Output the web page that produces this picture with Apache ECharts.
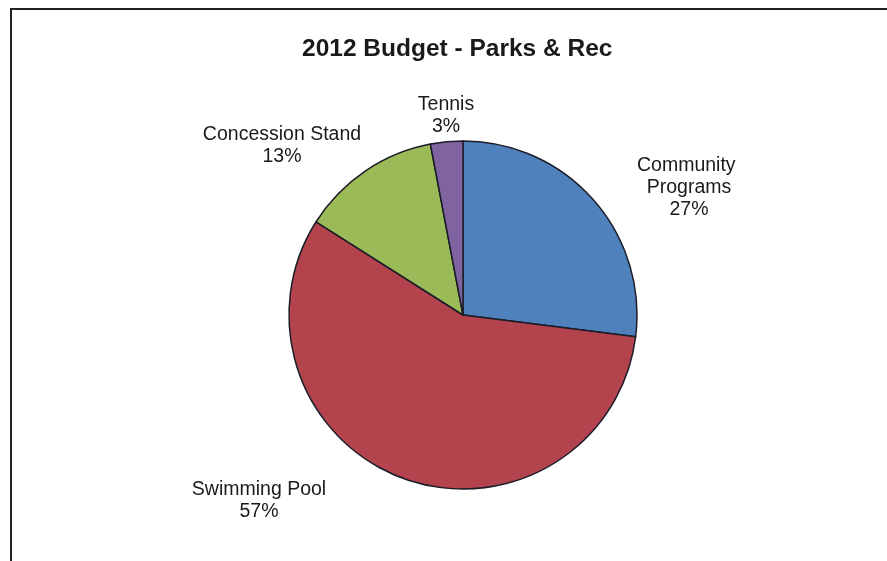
<!DOCTYPE html>
<html>
<head>
<meta charset="utf-8">
<script src="https://cdn.jsdelivr.net/npm/echarts@6/dist/echarts.min.js"></script>
<style>
  html, body { margin: 0; padding: 0; background: #ffffff; }
  #chart { width: 887px; height: 561px; }
</style>
</head>
<body>
<div id="chart"></div>
<script>
// 2012 Parks & Rec budget split (percent of total)
const categories = ['Community Programs', 'Swimming Pool', 'Concession Stand', 'Tennis'];
const shares = [27, 57, 13, 3];

// Slice fills, in category order
const sliceColors = ['#4f81bd', '#b3444e', '#9bbb59', '#8064a2'];

// Pie geometry (pixels)
const pieCenter = [463, 315];
const pieRadius = 174;

// Label block centres, relative to the pie centre
const labelOffsets = [[226, -127], [-204, 186], [-181, -169], [-17, -199]];

const chart = echarts.init(document.getElementById('chart'), null, { renderer: 'canvas' });

const data = categories.map((name, i) => ({
  name: name,
  value: shares[i],
  itemStyle: { color: sliceColors[i] },
  label: name === 'Community Programs' ? { width: 110, overflow: 'break' } : {}
}));

chart.setOption({
  animation: false,
  backgroundColor: '#ffffff',
  title: {
    text: '2012 Budget - Parks & Rec',
    left: 297,
    top: 32,
    textStyle: {
      fontFamily: 'Liberation Sans, Arial, sans-serif',
      fontWeight: 'bold',
      fontSize: 24.5,
      color: '#1a1a1a'
    }
  },
  graphic: [{
    type: 'rect',
    shape: { x: 11, y: 9, width: 900, height: 600 },
    style: { fill: 'none', stroke: '#222222', lineWidth: 2 },
    silent: true
  }],
  series: [{
    type: 'pie',
    center: pieCenter,
    radius: pieRadius,
    startAngle: 90,
    clockwise: true,
    percentPrecision: 0,
    data: data,
    itemStyle: { borderColor: '#1c1c28', borderWidth: 1.5 },
    label: {
      show: true,
      position: 'outside',
      formatter: '{b}\n{d}%',
      fontFamily: 'Liberation Sans, Arial, sans-serif',
      fontSize: 19.5,
      lineHeight: 22,
      color: '#1a1a1a',
      align: 'center'
    },
    labelLine: { show: false },
    labelLayout: function (params) {
      const off = labelOffsets[params.dataIndex];
      return {
        x: pieCenter[0] + off[0],
        y: pieCenter[1] + off[1],
        align: 'center',
        verticalAlign: 'middle'
      };
    },
    emphasis: { disabled: true }
  }]
});
</script>
</body>
</html>
